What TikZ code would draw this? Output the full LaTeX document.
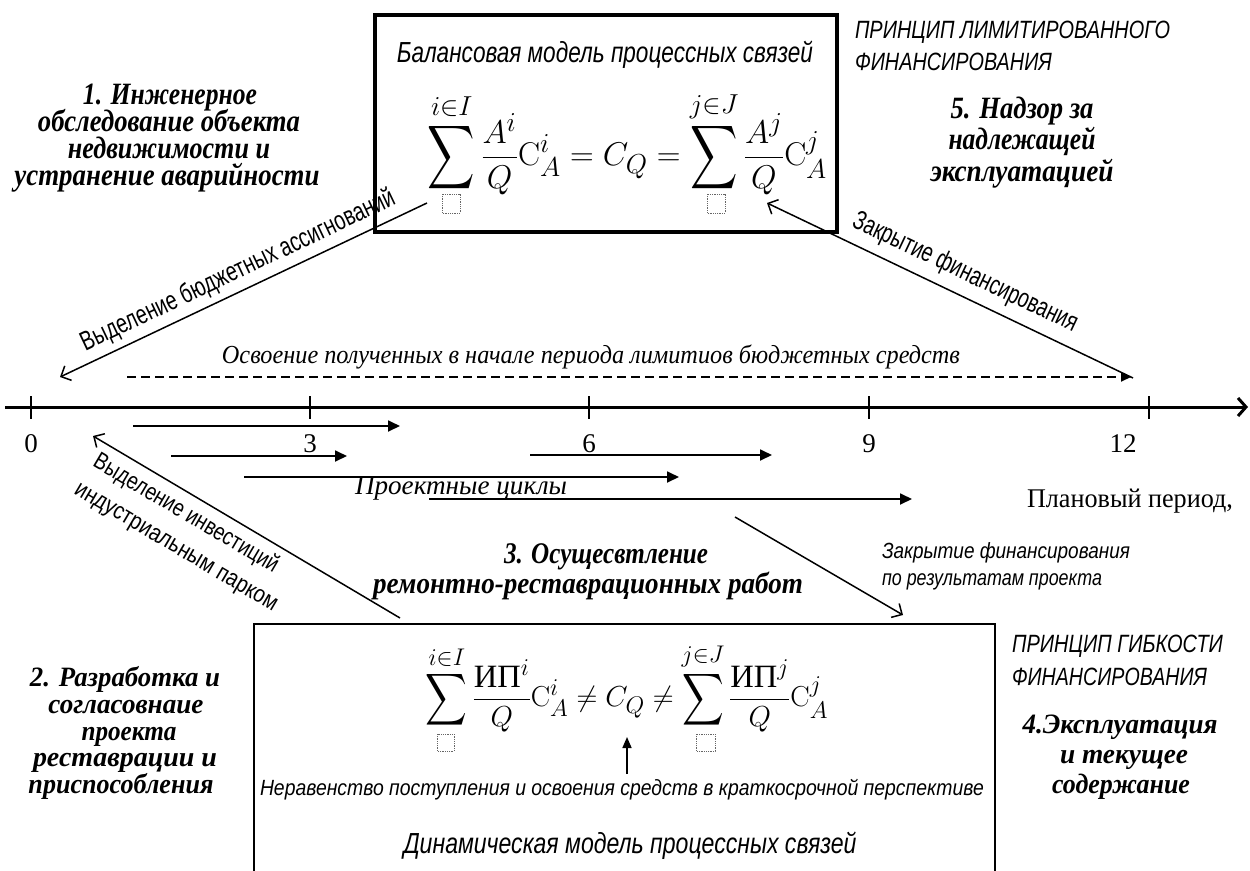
\documentclass[tikz,border=0pt]{standalone}
\usepackage{exscale}
\usepackage{amsmath}
\usepackage[no-math]{fontspec}
\setmainfont{Liberation Serif}
\newfontfamily\condsans{Liberation Sans}
\usepackage{graphicx}
\usetikzlibrary{arrows.meta}
\newcommand\fw[2]{\resizebox{#1pt}{\height}{#2}}
\newcommand\bigsum[1]{\mathop{\vcenter{\hbox{\scalebox{1}[#1]{$\displaystyle\sum$}}}}\limits}
\tikzset{
  every node/.style={inner sep=0pt, outer sep=0pt},
  stepfont/.style={font=\fontsize{#1}{#1}\selectfont\bfseries\itshape},
  condit/.style={font=\condsans\itshape\fontsize{#1}{#1}\selectfont},
  condup/.style={font=\condsans\fontsize{#1}{#1}\selectfont},
  serifit/.style={font=\itshape\fontsize{#1}{#1}\selectfont},
  serifup/.style={font=\fontsize{#1}{#1}\selectfont},
  mathfont/.style={font=\fontsize{#1}{#1}\selectfont},
  frame/.style={draw, line width=#1},
  cycle/.style={line width=1.8pt, -{Triangle[length=12pt,width=11pt]}},
  diag/.style={line width=1.5pt, -{Straight Barb[length=8pt,width=16pt]}},
  tickmark/.style={line width=1.5pt},
  holder/.style={densely dotted, line width=0.8pt, black!60},
}
\begin{document}
\begin{tikzpicture}[x=1pt,y=-1pt]
\useasboundingbox (0,0) rectangle (1250,870);
% frames
\node[frame=3.2pt, minimum width=462pt, minimum height=217pt] (topbox) at (606,123.5) {};
\node[frame=2.6pt, minimum width=741pt, minimum height=276pt] (botbox) at (624.5,762) {};
% top box content
\node[condit=29, anchor=base] (ttl) at (605,62) {\fw{416}{Балансовая модель процессных связей}};
\node[mathfont=32] (ftop) at (627.5,143) {\resizebox{399pt}{!}{$\displaystyle\bigsum{1.35}^{i\in I}\frac{A^{i}}{Q}\mathrm{C}^{i}_{A}=C_{Q}=\bigsum{1.35}^{j\in J}\frac{A^{j}}{Q}\mathrm{C}^{j}_{A}$}};
\draw[holder] (442,194) rectangle (460,213);
\draw[holder] (707,194) rectangle (725,213);
% principle top
\node[condit=25, anchor=base west] (pr1a) at (855,38) {\fw{315}{ПРИНЦИП ЛИМИТИРОВАННОГО}};
\node[condit=25, anchor=base west] (pr1b) at (855,70) {\fw{197}{ФИНАНСИРОВАНИЯ}};
% step 5
\node[stepfont=31, anchor=base] (s5a) at (1022,118) {\fw{143}{5. Надзор за}};
\node[stepfont=31, anchor=base] (s5b) at (1022,149.5) {\fw{147}{надлежащей}};
\node[stepfont=31, anchor=base] (s5c) at (1022,181) {\fw{183}{эксплуатацией}};
% step 1
\node[stepfont=31, anchor=base] (s1a) at (170,104) {\fw{174}{1. Инженерное}};
\node[stepfont=31, anchor=base] (s1b) at (169,131) {\fw{262}{обследование объекта}};
\node[stepfont=31, anchor=base] (s1c) at (169,158) {\fw{202}{недвижимости и}};
\node[stepfont=31, anchor=base] (s1d) at (167,185) {\fw{305}{устранение аварийности}};
% diagonal arrows top
\coordinate (d1s) at (427,203);
\coordinate (d1e) at (60,377);
\draw[diag] (d1s) -- (d1e);
\node[condup=27, rotate=25.4] (lab1) at (238,271) {\fw{345}{Выделение бюджетных ассигнований}};
\coordinate (d2s) at (1133,378);
\coordinate (d2e) at (767,203);
\draw[diag] (d2s) -- (d2e);
\node[condup=27, rotate=-25.4] (lab2) at (965,273) {\fw{246}{Закрытие финансирования}};
% dashed
\node[serifit=26, anchor=base] (osv) at (591,363) {\fw{738}{Освоение полученных в начале периода лимитиов бюджетных средств}};
\coordinate (ds) at (127,377);
\coordinate (de) at (1131,377);
\draw[line width=1.8pt, dash pattern=on 9pt off 5pt, -{Triangle[length=10pt,width=9pt]}] (ds) -- (de);
% axis
\coordinate (ax0) at (5,407);
\coordinate (ax1) at (1248,407);
\draw[line width=3pt, -{Straight Barb[length=8pt,width=18pt]}] (ax0) -- (ax1);
\foreach \x in {31,310,589,869,1149} {\draw[tickmark] (\x,396) -- (\x,419);}
\node[serifup=27, anchor=base] (n0) at (31,452) {0};
\node[serifup=27, anchor=base] (n3) at (310,452) {3};
\node[serifup=27, anchor=base] (n6) at (589,452) {6};
\node[serifup=27, anchor=base] (n9) at (869,452) {9};
\node[serifup=27, anchor=base] (n12) at (1123,452) {12};
\node[serifup=27, anchor=base west] (plan) at (1027,507) {\fw{206}{Плановый период,}};
% project cycles
\coordinate (c1s) at (133,426); \coordinate (c1e) at (400,426);
\coordinate (c2s) at (171,456); \coordinate (c2e) at (347,456);
\coordinate (c3s) at (530,455); \coordinate (c3e) at (772,455);
\coordinate (c4s) at (244,477); \coordinate (c4e) at (679,477);
\coordinate (c5s) at (429,499); \coordinate (c5e) at (912,499);
\draw[cycle] (c1s) -- (c1e);
\draw[cycle] (c2s) -- (c2e);
\draw[cycle] (c3s) -- (c3e);
\draw[cycle] (c4s) -- (c4e);
\draw[cycle] (c5s) -- (c5e);
\node[serifit=27, anchor=base west] (pc) at (355,494) {\fw{212}{Проектные циклы}};
% lower diagonals
\coordinate (d3s) at (400,618);
\coordinate (d3e) at (93,436);
\draw[diag] (d3s) -- (d3e);
\node[condup=24, rotate=-30.6] (lab3a) at (186,514) {\fw{211}{Выделение инвестиций}};
\node[condup=24, rotate=-30.6] (lab3b) at (175,549) {\fw{232}{индустриальным парком}};
\coordinate (d4s) at (735,517);
\coordinate (d4e) at (903,615);
\draw[diag] (d4s) -- (d4e);
\node[condit=22, anchor=base west] (cl1) at (882,558) {\fw{248}{Закрытие финансирования}};
\node[condit=22, anchor=base west] (cl2) at (882,585) {\fw{220}{по результатам проекта}};
% step 3
\node[stepfont=30, anchor=base] (s3a) at (606,563) {\fw{204}{3. Осущесвтление}};
\node[stepfont=30, anchor=base] (s3b) at (588,593) {\fw{430}{ремонтно-реставрационных работ}};
% bottom box content
\node[mathfont=28] (fbot) at (627,688) {\resizebox{402pt}{!}{$\displaystyle\bigsum{1.25}^{i\in I}\frac{\textrm{ИП}^{i}}{Q}\mathrm{C}^{i}_{A}\neq C_{Q}\neq\bigsum{1.25}^{j\in J}\frac{\textrm{ИП}^{j}}{Q}\mathrm{C}^{j}_{A}$}};
\draw[holder] (437,734) rectangle (454,751);
\draw[holder] (696,734) rectangle (715,751);
\coordinate (ups) at (627,774);
\coordinate (upe) at (627,737);
\draw[line width=1.6pt, -{Triangle[length=11pt,width=9pt]}] (ups) -- (upe);
\node[condit=22, anchor=base] (ineq) at (622,795) {\fw{724}{Неравенство поступления и освоения средств в краткосрочной перспективе}};
\node[condit=29, anchor=base] (dyn) at (630,853) {\fw{453}{Динамическая модель процессных связей}};
% step 2
\node[stepfont=28, anchor=base] (s2a) at (125,686) {\fw{190}{2. Разработка и}};
\node[stepfont=28, anchor=base] (s2b) at (126,713) {\fw{155}{согласовнаие}};
\node[stepfont=28, anchor=base] (s2c) at (129,740) {\fw{95}{проекта}};
\node[stepfont=28, anchor=base] (s2d) at (125,766) {\fw{184}{реставрации и}};
\node[stepfont=28, anchor=base] (s2e) at (121,793) {\fw{185}{приспособления}};
% principle bottom
\node[condit=25, anchor=base west] (pr2a) at (1012,652) {\fw{211}{ПРИНЦИП ГИБКОСТИ}};
\node[condit=25, anchor=base west] (pr2b) at (1012,685) {\fw{195}{ФИНАНСИРОВАНИЯ}};
% step 4
\node[stepfont=28, anchor=base] (s4a) at (1120,733) {\fw{195}{4.Эксплуатация}};
\node[stepfont=28, anchor=base] (s4b) at (1124,763) {\fw{128}{и текущее}};
\node[stepfont=28, anchor=base] (s4c) at (1121,793) {\fw{138}{содержание}};
\end{tikzpicture}
\end{document}
